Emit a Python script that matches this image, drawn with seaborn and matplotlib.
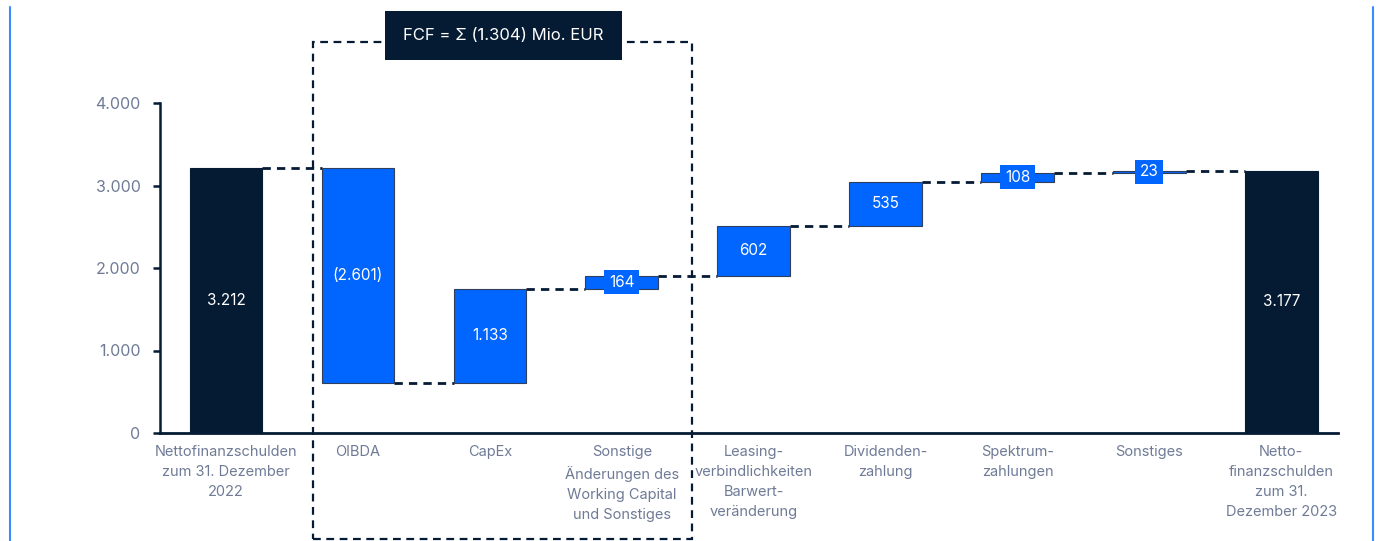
import numpy as np
import pandas as pd
import matplotlib
matplotlib.use("Agg")
import matplotlib.pyplot as plt
import seaborn as sns
from matplotlib.patches import Rectangle
from matplotlib.lines import Line2D

# ---------------- data ----------------
categories = [
    "Nettofinanzschulden\nzum 31. Dezember\n2022",
    "OIBDA",
    "CapEx",
    "Sonstige\nÄnderungen des\nWorking Capital\nund Sonstiges",
    "Leasing-\nverbindlichkeiten\nBarwert-\nveränderung",
    "Dividenden-\nzahlung",
    "Spektrum-\nzahlungen",
    "Sonstiges",
    "Netto-\nfinanzschulden\nzum 31.\nDezember 2023",
]
start_total = 3212
changes = [-2601, 1133, 164, 602, 535, 108, 23]
end_total = 3177
value_labels = ["3.212", "(2.601)", "1.133", "164", "602", "535", "108", "23", "3.177"]
y_ticks = [0, 1000, 2000, 3000, 4000]
y_tick_labels = ["0", "1.000", "2.000", "3.000", "4.000"]
fcf_label = "FCF = \u03a3 (1.304) Mio. EUR"

# ---------------- style ----------------
NAVY = "#051b34"
BLUE = "#0066ff"
EDGE = "#2f3f5c"
TXT = "#6f7b96"
FRAME = "#3b8cff"

sns.set_style("white")
plt.rcParams["font.family"] = ["Inter", "DejaVu Sans"]

# waterfall geometry derived from data
levels = [start_total]
for c in changes:
    levels.append(levels[-1] + c)
heights = [start_total] + changes + [end_total]
bottoms = [0] + levels[:-1] + [0]
ends = [start_total] + levels[1:]

df = pd.DataFrame({"cat": categories, "height": heights})

fig = plt.figure(figsize=(13.78, 5.41), dpi=100)
ax = fig.add_axes([160 / 1378, 1 - 433 / 541, (1338 - 160) / 1378, 330 / 541])

sns.barplot(data=df, x="cat", y="height", order=categories, bottom=bottoms,
            color=BLUE, saturation=1, width=0.55, errorbar=None, ax=ax,
            edgecolor=EDGE, linewidth=0.8, zorder=3)

patches = ax.patches
for i in (0, len(patches) - 1):
    patches[i].set_facecolor(NAVY)
    patches[i].set_edgecolor(NAVY)

# connectors
half = 0.55 / 2
for i in range(len(categories) - 1):
    ax.plot([i + half, i + 1 - half], [ends[i], ends[i]], color=NAVY,
            lw=2.0, linestyle=(0, (3, 2.2)), zorder=2, solid_capstyle="butt")

# value labels
for i, (b, h, lab) in enumerate(zip(bottoms, heights, value_labels)):
    yc = b + h / 2
    if abs(h) < 300:
        ax.text(i, yc, lab, ha="center", va="center", color="white", fontsize=11,
                zorder=5,
                bbox=dict(boxstyle="square,pad=0.3", facecolor=BLUE, edgecolor="none"))
    else:
        ax.text(i, yc, lab, ha="center", va="center", color="white", fontsize=11,
                zorder=5)

ax.set_xlim(-0.5, 8.43)
ax.set_ylim(0, 4000)
ax.set_yticks(y_ticks)
ax.set_yticklabels(y_tick_labels)
ax.set_xlabel("")
ax.set_ylabel("")

for s in ("top", "right"):
    ax.spines[s].set_visible(False)
ax.spines["left"].set_color(NAVY)
ax.spines["left"].set_linewidth(1.8)
ax.spines["bottom"].set_color(NAVY)
ax.spines["bottom"].set_linewidth(2.0)

ax.tick_params(axis="y", which="both", left=True, length=5, width=1.8, color=NAVY,
               labelsize=11.5, labelcolor=TXT, pad=9)
ax.tick_params(axis="x", which="both", bottom=False, labelsize=10.5, labelcolor=TXT, pad=5)
for t in ax.get_xticklabels():
    t.set_linespacing(1.55)
    t.set_ha("center")
    t.set_va("top")

# FCF dashed box (figure coordinates)
fig.add_artist(Rectangle((313 / 1378, 0.004), (692 - 313) / 1378, (1 - 42 / 541) - 0.004,
                         transform=fig.transFigure, fill=False, edgecolor=NAVY,
                         lw=1.6, linestyle=(0, (3.5, 2.5)), zorder=1))
fig.add_artist(Rectangle((385 / 1378, 1 - 60 / 541), (622 - 385) / 1378, 49 / 541,
                         transform=fig.transFigure, facecolor=NAVY, edgecolor="none",
                         zorder=6))
fig.text(503.5 / 1378, 1 - 35.5 / 541, fcf_label, ha="center", va="center",
         color="white", fontsize=12, zorder=7)

# outer blue frame lines
fig.add_artist(Line2D([10 / 1378, 10 / 1378], [0, 1 - 7 / 541], transform=fig.transFigure,
                      color=FRAME, lw=1.5))
fig.add_artist(Line2D([1373 / 1378, 1373 / 1378], [0, 1 - 7 / 541], transform=fig.transFigure,
                      color=FRAME, lw=1.5))

fig.savefig("out.png", dpi=100)
